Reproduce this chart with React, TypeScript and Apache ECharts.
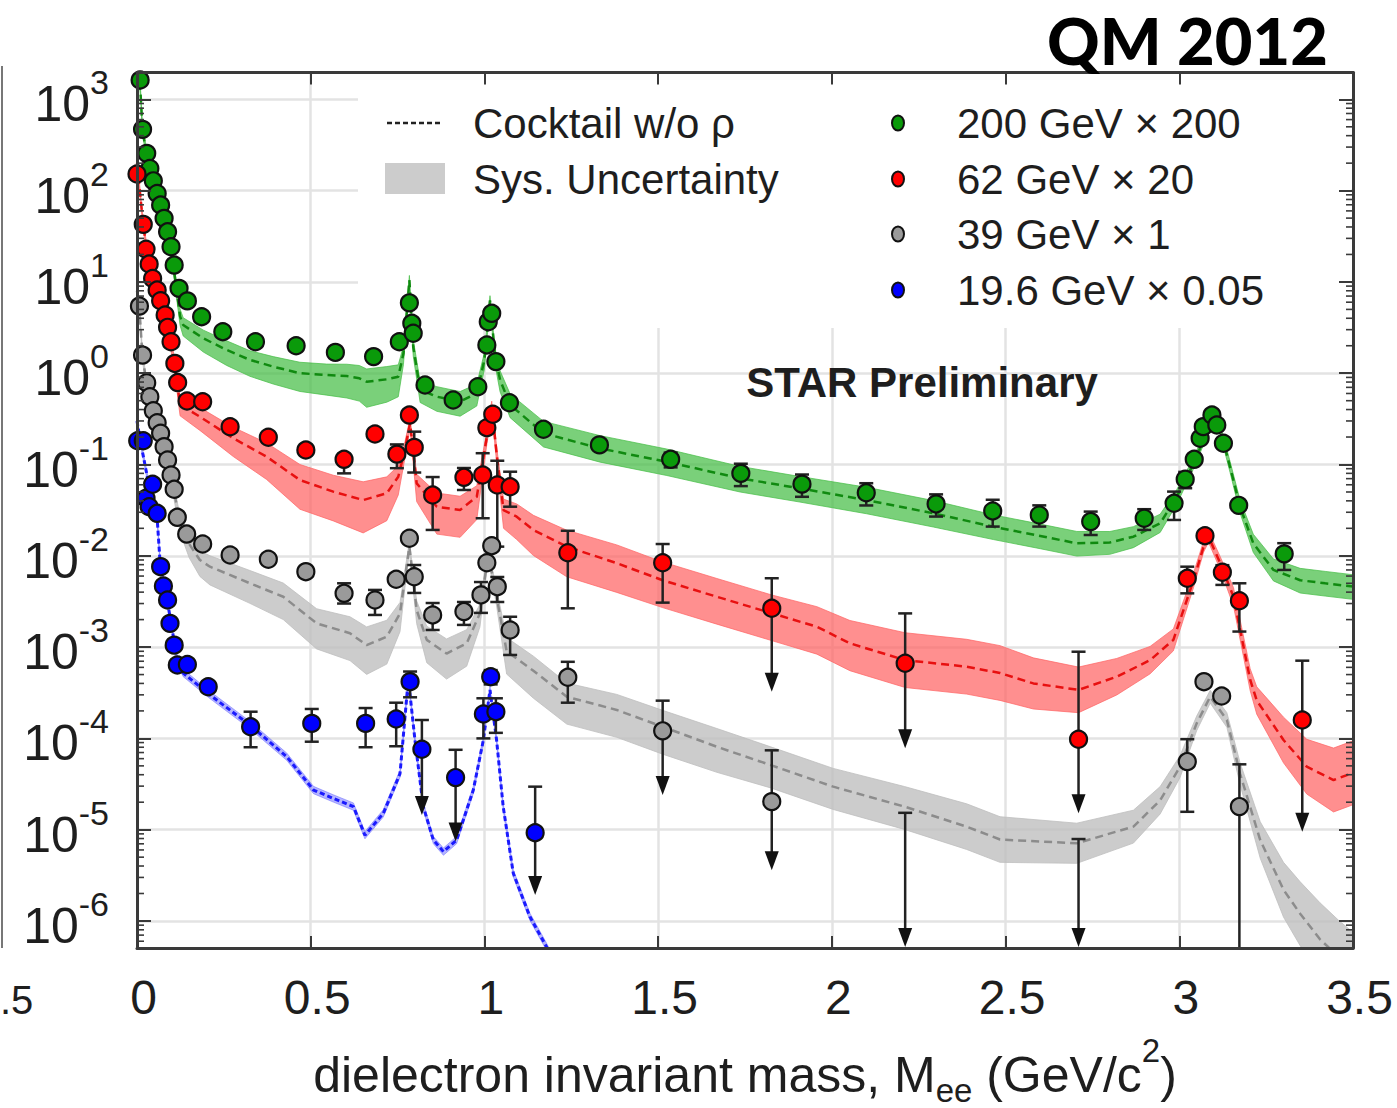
import React, { useEffect, useRef } from 'react';
import * as echarts from 'echarts';

const FONT = "'Liberation Sans', Arial, Helvetica, sans-serif";

// axis range (log10 extent)
const Y_MIN = Math.pow(10, -6.296);
const Y_MAX = Math.pow(10, 3.294);
const X_MIN = 0;
const X_MAX = 3.5;
const X_TICKS = [0, 0.5, 1, 1.5, 2, 2.5, 3, 3.5];

// data points: [mass, value, errLow, errHigh, upperLimitArrow]
const pts200 = [
  [0.009, 1627], [0.016, 469], [0.028, 256], [0.037, 175], [0.047, 128], [0.058, 93], [0.068, 69.5],
  [0.078, 49.7], [0.088, 35.4], [0.098, 24.3], [0.107, 15.3], [0.121, 8.5], [0.145, 6.2], [0.186, 4.16],
  [0.247, 2.85], [0.341, 2.21], [0.458, 2.0], [0.571, 1.69], [0.681, 1.52], [0.755, 2.21], [0.784, 5.9],
  [0.791, 3.52], [0.795, 2.74], [0.829, 0.743], [0.910, 0.509], [0.981, 0.711], [1.007, 2.04], [1.011, 3.66],
  [1.021, 4.53], [1.033, 1.34], [1.072, 0.475], [1.170, 0.243], [1.331, 0.164],
  [1.536, 0.114, 0.093, 0.135, 0], [1.738, 0.080, 0.058, 0.102, 0], [1.914, 0.061, 0.0443, 0.0777, 0],
  [2.099, 0.049, 0.0356, 0.0624, 0], [2.300, 0.037, 0.0269, 0.0471, 0], [2.463, 0.031, 0.0209, 0.0411, 0],
  [2.597, 0.028, 0.0209, 0.0357, 0], [2.745, 0.0237, 0.0169, 0.0305, 0], [2.899, 0.0258, 0.0192, 0.0324, 0],
  [2.985, 0.0376, 0.0247, 0.0505, 0], [3.017, 0.0689, 0.055, 0.083, 0], [3.043, 0.114], [3.060, 0.194],
  [3.069, 0.26], [3.094, 0.348], [3.108, 0.271], [3.127, 0.171], [3.171, 0.0357],
  [3.302, 0.0105, 0.0070, 0.01375, 0],
];

const pts62 = [
  [0.000, 152], [0.018, 42.7], [0.026, 22.8], [0.035, 15.7], [0.045, 10.9], [0.058, 8.15], [0.068, 6.22],
  [0.081, 4.34], [0.088, 3.18], [0.098, 2.21], [0.109, 1.28], [0.117, 0.79], [0.144, 0.496], [0.189, 0.487],
  [0.268, 0.259], [0.378, 0.199], [0.486, 0.144], [0.596, 0.114, 0.080, 0.13, 0], [0.685, 0.216],
  [0.748, 0.130, 0.0912, 0.166, 0], [0.784, 0.348], [0.798, 0.154, 0.0817, 0.229, 0],
  [0.851, 0.0463, 0.0192, 0.0729, 0], [0.941, 0.0724, 0.0526, 0.0916, 0], [0.995, 0.0767, 0.0258, 0.133, 0],
  [1.007, 0.253], [1.024, 0.355], [1.037, 0.0596, 0.0126, 0.110, 0], [1.074, 0.057, 0.0345, 0.0834, 0],
  [1.240, 0.0108, 0.00266, 0.0188, 0], [1.513, 0.0084, 0.00307, 0.01346, 0],
  [1.827, 0.00266, 0.000325, 0.00568, 1], [2.211, 0.000665, 0.000078, 0.00234, 1],
  [2.710, 0.0000978, 0.0000151, 0.00089, 1], [3.023, 0.00567, 0.00388, 0.0076, 0], [3.074, 0.0166],
  [3.124, 0.0066, 0.0048, 0.0079, 0], [3.173, 0.00322, 0.00148, 0.0050, 0],
  [3.354, 0.000159, 0.0000095, 0.00071, 1],
];

const pts39 = [
  [0.007, 5.44], [0.016, 1.58], [0.028, 0.787], [0.037, 0.553], [0.047, 0.388], [0.058, 0.287], [0.068, 0.220],
  [0.078, 0.157], [0.088, 0.112], [0.098, 0.0767], [0.107, 0.0535], [0.116, 0.0264], [0.143, 0.0173],
  [0.189, 0.01346], [0.268, 0.0102], [0.378, 0.00916], [0.486, 0.0067], [0.596, 0.00388, 0.0030, 0.0050, 0],
  [0.685, 0.00328, 0.00225, 0.00423, 0], [0.746, 0.00553], [0.784, 0.01556], [0.798, 0.0059, 0.00392, 0.00793, 0],
  [0.851, 0.00225, 0.00154, 0.00304, 0], [0.941, 0.00245, 0.00175, 0.00312, 0], [0.990, 0.00373, 0.00237, 0.00516, 0],
  [1.007, 0.0084], [1.021, 0.0129], [1.037, 0.00459, 0.00312, 0.00586, 0], [1.074, 0.00154, 0.00082, 0.00215, 0],
  [1.240, 0.000467, 0.000246, 0.00069, 0], [1.513, 0.000121, 0.000024, 0.000259, 1],
  [1.827, 0.0000203, 0.0000036, 0.000074, 1], [2.211, 0.0000001, 0.00000052, 0.0000153, 1],
  [2.710, 0.0000001, 0.00000052, 0.0000079, 1], [3.023, 0.0000557, 0.0000157, 0.000098, 0],
  [3.071, 0.000418], [3.122, 0.000291], [3.173, 0.0000179, 0.0000001, 0.000052, 0],
];

const pts19 = [
  [0.002, 0.182], [0.018, 0.182], [0.026, 0.0427], [0.035, 0.0345], [0.045, 0.0607], [0.058, 0.0292],
  [0.068, 0.0076], [0.076, 0.00467], [0.088, 0.00328], [0.095, 0.00182], [0.107, 0.00105], [0.116, 0.000637],
  [0.145, 0.000645], [0.205, 0.000368], [0.327, 0.000134, 0.000080, 0.000196, 0],
  [0.503, 0.000146, 0.000092, 0.000210, 0], [0.658, 0.000146, 0.000080, 0.000215, 0],
  [0.746, 0.000163, 0.000082, 0.000246, 0], [0.786, 0.000418, 0.000282, 0.00054, 0],
  [0.820, 0.000076, 0.0000145, 0.000159, 1], [0.917, 0.0000372, 0.0000074, 0.000075, 1],
  [0.997, 0.000185, 0.000100, 0.000275, 0], [1.018, 0.000474, 0.00039, 0.00056, 0],
  [1.033, 0.000196, 0.000115, 0.000275, 0], [1.146, 0.00000927, 0.00000193, 0.0000296, 1],
];

// cocktail w/o rho: [mass, value, band below (decades), band above (decades)]
const cocktail200 = [
  [0.000, 3000, 0.05, 0.05], [0.010, 1200, 0.05, 0.05], [0.016, 450, 0.05, 0.05], [0.028, 250, 0.05, 0.05],
  [0.037, 170, 0.05, 0.05], [0.047, 125, 0.05, 0.05], [0.058, 90, 0.06, 0.05], [0.068, 66, 0.06, 0.05],
  [0.078, 47, 0.06, 0.05], [0.088, 33, 0.07, 0.05], [0.098, 22, 0.07, 0.06], [0.107, 13, 0.08, 0.06],
  [0.124, 4.2, 0.1, 0.08], [0.133, 3.37, 0.12, 0.08], [0.191, 2.41, 0.15, 0.09], [0.258, 1.80, 0.17, 0.10],
  [0.325, 1.40, 0.18, 0.10], [0.392, 1.18, 0.19, 0.11], [0.469, 1.00, 0.20, 0.12], [0.546, 0.955, 0.22, 0.12],
  [0.604, 0.93, 0.24, 0.13], [0.640, 0.88, 0.25, 0.14], [0.661, 0.807, 0.28, 0.14], [0.719, 0.857, 0.25, 0.14],
  [0.752, 0.916, 0.22, 0.13], [0.767, 1.65, 0.12, 0.08], [0.784, 10.5, 0.05, 0.05], [0.795, 1.95, 0.1, 0.08],
  [0.815, 0.66, 0.14, 0.09], [0.863, 0.553, 0.16, 0.11], [0.930, 0.489, 0.16, 0.11], [0.978, 0.604, 0.14, 0.1],
  [1.000, 1.4, 0.1, 0.08], [1.016, 6.3, 0.05, 0.05], [1.030, 1.6, 0.1, 0.08], [1.045, 0.845, 0.13, 0.1],
  [1.074, 0.45, 0.14, 0.12], [1.170, 0.22, 0.15, 0.13], [1.333, 0.150, 0.15, 0.14], [1.525, 0.107, 0.15, 0.14],
  [1.736, 0.0706, 0.15, 0.13], [1.908, 0.0548, 0.15, 0.13], [2.100, 0.0408, 0.15, 0.14], [2.292, 0.0292, 0.15, 0.14],
  [2.465, 0.0208, 0.14, 0.13], [2.600, 0.0165, 0.14, 0.13], [2.705, 0.0137, 0.14, 0.13], [2.800, 0.0140, 0.13, 0.12],
  [2.868, 0.0162, 0.12, 0.11], [2.945, 0.0227, 0.1, 0.1], [2.993, 0.0444, 0.08, 0.08], [3.041, 0.103, 0.06, 0.06],
  [3.074, 0.202, 0.05, 0.05], [3.094, 0.307, 0.05, 0.05], [3.118, 0.239, 0.05, 0.05], [3.146, 0.0946, 0.06, 0.06],
  [3.175, 0.0345, 0.07, 0.07], [3.213, 0.0137, 0.1, 0.1], [3.271, 0.0070, 0.12, 0.12], [3.348, 0.0054, 0.14, 0.13],
  [3.420, 0.0050, 0.14, 0.13], [3.500, 0.0046, 0.14, 0.13],
];

const cocktail62 = [
  [0.000, 200, 0.05, 0.05], [0.018, 42, 0.05, 0.05], [0.035, 15, 0.06, 0.05], [0.058, 8, 0.06, 0.05],
  [0.081, 4.3, 0.07, 0.05], [0.098, 2.1, 0.08, 0.06], [0.109, 1.2, 0.09, 0.06], [0.124, 0.45, 0.12, 0.07],
  [0.181, 0.334, 0.15, 0.1], [0.277, 0.194, 0.2, 0.12], [0.373, 0.122, 0.25, 0.15], [0.469, 0.0676, 0.32, 0.17],
  [0.565, 0.0504, 0.32, 0.18], [0.651, 0.0408, 0.36, 0.2], [0.719, 0.0484, 0.3, 0.18], [0.752, 0.0735, 0.2, 0.12],
  [0.770, 0.14, 0.1, 0.08], [0.786, 0.283, 0.06, 0.06], [0.805, 0.0622, 0.2, 0.1], [0.863, 0.0345, 0.3, 0.15],
  [0.930, 0.0318, 0.3, 0.15], [0.978, 0.0444, 0.25, 0.12], [1.007, 0.201, 0.08, 0.06], [1.021, 0.43, 0.06, 0.06],
  [1.036, 0.122, 0.1, 0.08], [1.055, 0.0317, 0.2, 0.12], [1.093, 0.0268, 0.25, 0.14], [1.141, 0.0192, 0.28, 0.16],
  [1.237, 0.0126, 0.33, 0.18], [1.381, 0.0083, 0.32, 0.2], [1.513, 0.0054, 0.3, 0.2], [1.669, 0.00356, 0.3, 0.2],
  [1.827, 0.00235, 0.3, 0.2], [1.957, 0.00167, 0.3, 0.22], [2.052, 0.0011, 0.3, 0.25], [2.211, 0.00072, 0.3, 0.3],
  [2.388, 0.00061, 0.3, 0.3], [2.484, 0.00052, 0.3, 0.3], [2.580, 0.00040, 0.28, 0.28], [2.710, 0.00034, 0.25, 0.25],
  [2.820, 0.000474, 0.2, 0.2], [2.916, 0.00072, 0.15, 0.15], [2.983, 0.0012, 0.12, 0.12], [3.041, 0.0054, 0.08, 0.08],
  [3.070, 0.0126, 0.06, 0.06], [3.084, 0.0162, 0.06, 0.06], [3.118, 0.0083, 0.07, 0.07], [3.156, 0.00356, 0.1, 0.1],
  [3.204, 0.00044, 0.12, 0.12], [3.223, 0.00026, 0.15, 0.15], [3.300, 0.000096, 0.25, 0.25],
  [3.367, 0.000049, 0.3, 0.3], [3.444, 0.000035, 0.35, 0.35], [3.500, 0.000042, 0.35, 0.35],
];

const cocktail39 = [
  [0.000, 8, 0.05, 0.05], [0.007, 5, 0.05, 0.05], [0.016, 1.5, 0.05, 0.05], [0.028, 0.75, 0.06, 0.05],
  [0.047, 0.37, 0.06, 0.05], [0.068, 0.21, 0.07, 0.05], [0.088, 0.105, 0.08, 0.06], [0.107, 0.05, 0.09, 0.06],
  [0.124, 0.0227, 0.1, 0.08], [0.150, 0.0135, 0.15, 0.1], [0.181, 0.0090, 0.18, 0.1], [0.210, 0.0076, 0.2, 0.12],
  [0.325, 0.0050, 0.22, 0.14], [0.421, 0.00356, 0.25, 0.15], [0.517, 0.00182, 0.28, 0.16], [0.613, 0.00142, 0.3, 0.18],
  [0.661, 0.00105, 0.32, 0.2], [0.719, 0.0013, 0.3, 0.18], [0.757, 0.00234, 0.2, 0.12], [0.772, 0.006, 0.1, 0.08],
  [0.784, 0.0126, 0.06, 0.06], [0.805, 0.00255, 0.15, 0.1], [0.834, 0.0012, 0.25, 0.15], [0.891, 0.00085, 0.28, 0.16],
  [0.949, 0.0011, 0.25, 0.15], [0.987, 0.00234, 0.15, 0.1], [1.011, 0.0106, 0.06, 0.06], [1.035, 0.00356, 0.1, 0.08],
  [1.064, 0.0009, 0.25, 0.15], [1.141, 0.00055, 0.3, 0.16], [1.237, 0.000286, 0.3, 0.15], [1.381, 0.000205, 0.3, 0.17],
  [1.513, 0.000134, 0.3, 0.18], [1.669, 0.000081, 0.28, 0.2], [1.824, 0.000051, 0.25, 0.2], [2.004, 0.0000296, 0.25, 0.2],
  [2.209, 0.0000179, 0.25, 0.22], [2.388, 0.0000108, 0.25, 0.25], [2.484, 0.0000078, 0.25, 0.25],
  [2.705, 0.0000071, 0.22, 0.22], [2.868, 0.0000108, 0.18, 0.18], [2.945, 0.000021, 0.15, 0.15],
  [3.002, 0.000049, 0.12, 0.12], [3.050, 0.000146, 0.08, 0.08], [3.089, 0.000286, 0.07, 0.07],
  [3.137, 0.000159, 0.08, 0.08], [3.175, 0.000041, 0.12, 0.12], [3.233, 0.0000077, 0.2, 0.2],
  [3.300, 0.0000022, 0.3, 0.3], [3.348, 0.0000012, 0.35, 0.35], [3.405, 0.00000063, 0.4, 0.4],
  [3.460, 0.0000004, 0.4, 0.4], [3.500, 0.0000003, 0.4, 0.4],
];

const cocktail19 = [
  [0.000, 0.3, 0.04, 0.04], [0.009, 0.186, 0.04, 0.04], [0.037, 0.0527, 0.04, 0.04], [0.057, 0.0294, 0.04, 0.04],
  [0.066, 0.009, 0.04, 0.04], [0.085, 0.00356, 0.04, 0.04], [0.100, 0.00167, 0.04, 0.04], [0.114, 0.000785, 0.04, 0.04],
  [0.124, 0.00061, 0.04, 0.04], [0.133, 0.00052, 0.04, 0.04], [0.210, 0.000299, 0.04, 0.04], [0.325, 0.00014, 0.04, 0.04],
  [0.431, 0.000063, 0.04, 0.04], [0.508, 0.0000272, 0.04, 0.04], [0.565, 0.000022, 0.04, 0.04],
  [0.623, 0.0000179, 0.04, 0.04], [0.656, 0.0000087, 0.04, 0.04], [0.709, 0.0000151, 0.04, 0.04],
  [0.757, 0.000041, 0.04, 0.04], [0.781, 0.00045, 0.04, 0.04], [0.800, 0.000096, 0.04, 0.04],
  [0.824, 0.0000179, 0.04, 0.04], [0.853, 0.0000077, 0.04, 0.04], [0.882, 0.00000575, 0.04, 0.04],
  [0.920, 0.0000077, 0.04, 0.04], [0.968, 0.0000272, 0.04, 0.04], [0.997, 0.000096, 0.04, 0.04],
  [1.016, 0.00034, 0.04, 0.04], [1.035, 0.000096, 0.04, 0.04], [1.054, 0.0000179, 0.04, 0.04],
  [1.083, 0.00000333, 0.04, 0.04], [1.131, 0.00000111, 0.04, 0.04], [1.179, 0.00000052, 0.04, 0.04],
  [1.220, 0.00000025, 0.04, 0.04],
];

const LEGEND_LEFT = ['Cocktail w/o ρ', 'Sys. Uncertainty'];
const LEGEND_RIGHT = ['200 GeV × 200', '62 GeV × 20', '39 GeV × 1', '19.6 GeV × 0.05'];
const MINOR_MULTS = [2, 3, 4, 5, 6, 7, 8, 9];
const DECADES = [-7, -6, -5, -4, -3, -2, -1, 0, 1, 2, 3];

const SETS = [
  { name: '200 GeV × 200', pts: pts200, cocktail: cocktail200, point: '#0a9a0a', line: '#108a10', band: 'rgba(70,190,70,0.72)' },
  { name: '62 GeV × 20', pts: pts62, cocktail: cocktail62, point: '#ff0000', line: '#e81010', band: 'rgba(255,100,100,0.72)' },
  { name: '39 GeV × 1', pts: pts39, cocktail: cocktail39, point: '#9a9a9a', line: '#8c8c8c', band: 'rgba(190,190,190,0.78)' },
  { name: '19.6 GeV × 0.05', pts: pts19, cocktail: cocktail19, point: '#0000ff', line: '#1a1aff', band: 'rgba(90,90,255,0.45)' },
];

const AXIS_COLOR = '#3a3a3a';
const TEXT_COLOR = '#1e1e1e';

function bandSeries(c: number[][], color: string) {
  return {
    type: 'custom', xAxisIndex: 0, yAxisIndex: 0, clip: true, silent: true, z: 2,
    data: [[c[0][0], c[0][1]]],
    renderItem: (params: any, api: any) => {
      const upper = c.map((d) => api.coord([d[0], d[1] * Math.pow(10, d[3])]));
      const lower = c.map((d) => api.coord([d[0], d[1] / Math.pow(10, d[2])])).reverse();
      return {
        type: 'polygon',
        shape: { points: upper.concat(lower) },
        style: { fill: color, stroke: color, lineWidth: 1 },
      };
    },
  };
}

function lineSeries(c: number[][], color: string, blue: boolean) {
  return {
    type: 'line', xAxisIndex: 0, yAxisIndex: 0, clip: true, silent: true, z: 2,
    showSymbol: false, symbol: 'none',
    data: c.map((d) => [d[0], d[1]]),
    lineStyle: { color, width: blue ? 3 : 2.5, type: blue ? [5, 3] : [8, 5] },
  };
}

function errSeries(pts: number[][]) {
  return {
    type: 'custom', xAxisIndex: 0, yAxisIndex: 0, clip: true, silent: true, z: 3,
    data: pts.filter((p) => p.length > 2),
    renderItem: (params: any, api: any) => {
      const x = api.value(0);
      const lo = api.value(2);
      const hi = api.value(3);
      const arrow = api.value(4);
      const t = api.coord([x, hi]);
      const b = api.coord([x, lo]);
      const st = { stroke: '#222', lineWidth: 2.5 };
      const ch: any[] = [
        { type: 'line', shape: { x1: t[0], y1: t[1], x2: b[0], y2: arrow ? b[1] - 12 : b[1] }, style: st },
        { type: 'line', shape: { x1: t[0] - 7, y1: t[1], x2: t[0] + 7, y2: t[1] }, style: st },
      ];
      if (arrow) {
        ch.push({ type: 'polygon', shape: { points: [[b[0] - 7, b[1] - 19], [b[0] + 7, b[1] - 19], [b[0], b[1]]] }, style: { fill: '#111' } });
      } else {
        ch.push({ type: 'line', shape: { x1: b[0] - 7, y1: b[1], x2: b[0] + 7, y2: b[1] }, style: st });
      }
      return { type: 'group', children: ch };
    },
  };
}

function scatterSeries(pts: number[][], color: string, name: string) {
  return {
    type: 'scatter', name, xAxisIndex: 0, yAxisIndex: 0, clip: true, silent: true, z: 4,
    symbol: 'circle', symbolSize: 17,
    data: pts.map((p) => [p[0], p[1]]),
    itemStyle: { color, borderColor: '#111', borderWidth: 2.2, opacity: 1 },
  };
}

const yFormatter = (v: number) => {
  const e = Math.log10(v);
  const r = Math.round(e);
  if (Math.abs(e - r) > 1e-6) return '';
  return `{b|10}{s|${r}}`;
};

const yRich = {
  b: { fontSize: 50, fontFamily: FONT, color: TEXT_COLOR, padding: [10, 0, 0, 0] },
  s: { fontSize: 34, fontFamily: FONT, color: TEXT_COLOR, padding: [0, 0, 34, 0] },
};

export default function App() {
  const ref = useRef<HTMLDivElement>(null);

  useEffect(() => {
    document.body.style.margin = '0';
    if (!ref.current) return;
    const chart = echarts.init(ref.current, null, { renderer: 'svg' });

    const xBase = { type: 'value', min: X_MIN, max: X_MAX, interval: 0.5, gridIndex: 0 };
    const yBase = { type: 'log', logBase: 10, min: Y_MIN, max: Y_MAX, gridIndex: 0 };
    const axisLine = { show: true, onZero: false, lineStyle: { color: AXIS_COLOR, width: 3 } };

    const minorVals = DECADES.flatMap((d) => MINOR_MULTS.map((m) => m * Math.pow(10, d))).filter((v) => v > Y_MIN && v < Y_MAX);

    const series: any[] = [];
    [...SETS].reverse().forEach((s) => series.push(bandSeries(s.cocktail, s.band)));
    [...SETS].reverse().forEach((s, i) => series.push(lineSeries(s.cocktail, s.line, i === 0)));
    SETS.forEach((s) => series.push(errSeries(s.pts as number[][])));
    SETS.forEach((s) => series.push(scatterSeries(s.pts as number[][], s.point, s.name)));
    series.push({
      type: 'custom', xAxisIndex: 0, yAxisIndex: 0, silent: true, z: 6,
      data: minorVals.map((v) => [X_MIN, v]),
      renderItem: (params: any, api: any) => {
        const v = api.value(1);
        const l = api.coord([X_MIN, v]);
        const r = api.coord([X_MAX, v]);
        const st = { stroke: AXIS_COLOR, lineWidth: 1.6 };
        return {
          type: 'group',
          children: [
            { type: 'line', shape: { x1: l[0], y1: l[1], x2: l[0] + 7, y2: l[1] }, style: st },
            { type: 'line', shape: { x1: r[0] - 7, y1: r[1], x2: r[0], y2: r[1] }, style: st },
          ],
        };
      },
    });

    const legendY = [123, 179, 234, 290];
    const graphic: any[] = [
      { type: 'rect', z: 1, shape: { x: 358, y: 74, width: 993, height: 254 }, style: { fill: '#ffffff' } },
      { type: 'line', z: 10, shape: { x1: 387, y1: 123, x2: 443, y2: 123 }, style: { stroke: '#222', lineWidth: 2.5, lineDash: [5, 3] } },
      { type: 'text', z: 10, x: 473, y: 123, style: { text: LEGEND_LEFT[0], fontSize: 42, fontFamily: FONT, fill: TEXT_COLOR, align: 'left', verticalAlign: 'middle' } },
      { type: 'rect', z: 10, shape: { x: 385, y: 163, width: 60, height: 31 }, style: { fill: '#cccccc' } },
      { type: 'text', z: 10, x: 473, y: 179, style: { text: LEGEND_LEFT[1], fontSize: 42, fontFamily: FONT, fill: TEXT_COLOR, align: 'left', verticalAlign: 'middle' } },
      ...SETS.flatMap((s, i) => [
        { type: 'ellipse', z: 10, shape: { cx: 898, cy: legendY[i], rx: 6, ry: 7.5 }, style: { fill: s.point, stroke: '#111', lineWidth: 2 } },
        { type: 'text', z: 10, x: 957, y: legendY[i], style: { text: LEGEND_RIGHT[i], fontSize: 42, fontFamily: FONT, fill: TEXT_COLOR, align: 'left', verticalAlign: 'middle' } },
      ]),
      { type: 'text', z: 10, x: 922, y: 382, style: { text: 'STAR Preliminary', fontSize: 42, fontWeight: 'bold', fontFamily: FONT, fill: TEXT_COLOR, align: 'center', verticalAlign: 'middle' } },
      { type: 'text', z: 10, x: 1047, y: 40, style: { text: 'QM 2012', fontSize: 65, fontWeight: 900, fontFamily: "Lato, 'Open Sans', sans-serif", fill: '#000', align: 'left', verticalAlign: 'middle' } },
      {
        type: 'text', z: 10, x: 745, y: 1075,
        style: {
          text: '{a|dielectron invariant mass, M}{sub|ee}{a| (GeV/c}{sup|2}{a|)}',
          align: 'center', verticalAlign: 'middle', fill: TEXT_COLOR,
          rich: {
            a: { fontSize: 50, fontFamily: FONT, fill: TEXT_COLOR, color: TEXT_COLOR },
            sub: { fontSize: 33, fontFamily: FONT, fill: TEXT_COLOR, color: TEXT_COLOR, padding: [30, 0, 0, 0] },
            sup: { fontSize: 33, fontFamily: FONT, fill: TEXT_COLOR, color: TEXT_COLOR, padding: [0, 0, 50, 0] },
          },
        },
      },
      { type: 'text', z: 10, x: 0, y: 1000, style: { text: '.5', fontSize: 40, fontFamily: FONT, fill: TEXT_COLOR, align: 'left', verticalAlign: 'middle' } },
      { type: 'line', z: 10, shape: { x1: 2, y1: 66, x2: 2, y2: 948 }, style: { stroke: '#777', lineWidth: 2 } },
    ];

    chart.setOption({
      animation: false,
      backgroundColor: '#ffffff',
      grid: { left: 137, top: 72.5, width: 1216, height: 875.5, containLabel: false, outerBoundsMode: 'none' },
      xAxis: [
        { ...xBase, position: 'bottom', z: 0, axisLine: { show: false }, axisTick: { show: false }, axisLabel: { show: false },
          splitLine: { show: true, lineStyle: { color: '#e3e3e3', width: 2.5 } } },
        { ...xBase, position: 'bottom', z: 5, axisLine, splitLine: { show: false },
          axisTick: { show: true, inside: true, length: 12, lineStyle: { color: AXIS_COLOR, width: 2 } },
          axisLabel: { show: true, margin: 25, fontSize: 48, fontFamily: FONT, color: TEXT_COLOR, padding: [0, 0, 0, 13],
            formatter: (v: number) => (X_TICKS.includes(v) ? String(v) : '') } },
        { ...xBase, position: 'top', z: 5, axisLine, splitLine: { show: false }, axisLabel: { show: false },
          axisTick: { show: true, inside: true, length: 12, lineStyle: { color: AXIS_COLOR, width: 2 } } },
      ],
      yAxis: [
        { ...yBase, position: 'left', z: 0, axisLine: { show: false }, axisTick: { show: false }, axisLabel: { show: false },
          splitLine: { show: true, lineStyle: { color: '#e3e3e3', width: 2.5 } } },
        { ...yBase, position: 'left', z: 5, axisLine, splitLine: { show: false },
          axisTick: { show: true, inside: true, length: 14, lineStyle: { color: AXIS_COLOR, width: 2 } },
          axisLabel: { show: true, margin: 28, formatter: yFormatter, rich: yRich } },
        { ...yBase, position: 'right', z: 5, axisLine, splitLine: { show: false }, axisLabel: { show: false },
          axisTick: { show: true, inside: true, length: 14, lineStyle: { color: AXIS_COLOR, width: 2 } } },
      ],
      series,
      graphic,
    });

    return () => chart.dispose();
  }, []);

  return <div ref={ref} style={{ width: 1397, height: 1108 }} />;
}
